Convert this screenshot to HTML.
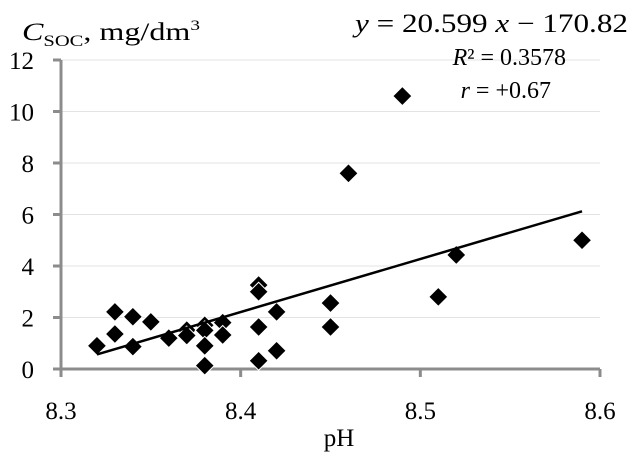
<!DOCTYPE html>
<html><head><meta charset="utf-8"><style>
body{margin:0;background:#fff}
svg text{font-family:"Liberation Serif","DejaVu Serif",serif;fill:#000}
</style></head><body>
<svg width="631" height="458" viewBox="0 0 631 458">
<g id="grid"></g>
<g id="axes"></g>
<g id="pts"></g>
<g id="trend"></g>
<text x="22" y="40" font-size="25" textLength="178" lengthAdjust="spacingAndGlyphs"><tspan font-style="italic">C</tspan><tspan font-size="16" dy="6">SOC</tspan><tspan dy="-6">, mg/dm</tspan><tspan font-size="15" dy="-10">3</tspan></text>
<text x="355" y="32" font-size="26" textLength="273" lengthAdjust="spacingAndGlyphs"><tspan font-style="italic">y</tspan> = 20.599 <tspan font-style="italic">x</tspan> − 170.82</text>
<text x="566" y="65" font-size="24" text-anchor="end"><tspan font-style="italic">R</tspan>² = 0.3578</text>
<text x="551" y="98" font-size="24" text-anchor="end"><tspan font-style="italic">r</tspan> = +0.67</text>
<text x="339" y="446" font-size="25" text-anchor="middle">pH</text>
</svg>
<script>
const xVals=[8.32,8.33,8.33,8.34,8.34,8.35,8.36,8.37,8.37,8.38,8.38,8.38,8.38,8.39,8.39,8.41,8.41,8.41,8.41,8.42,8.42,8.45,8.45,8.46,8.49,8.51,8.52,8.59];
const yVals=[0.9,2.22,1.36,2.03,0.87,1.83,1.2,1.51,1.3,1.7,1.5,0.9,0.13,1.8,1.32,3.26,3.0,1.63,0.32,2.22,0.71,2.56,1.63,7.6,10.6,2.8,4.43,5.0];
const yTicks=[0,2,4,6,8,10,12];
const xTicks=[8.3,8.4,8.5,8.6];
const slope=20.599, intercept=-170.82, trendRange=[8.32,8.59];
const X0=61,X1=600,Y0=369,Y1=60;
const sx=v=>X0+(v-8.3)/(0.3)*(X1-X0);
const sy=v=>Y0-(v/12)*(Y0-Y1);
const NS='http://www.w3.org/2000/svg';
function mk(t,a,p){const e=document.createElementNS(NS,t);for(const k in a)e.setAttribute(k,a[k]);p.appendChild(e);return e;}
const grid=document.getElementById('grid'),axes=document.getElementById('axes'),pts=document.getElementById('pts'),trend=document.getElementById('trend');
yTicks.forEach(v=>{
 if(v>0){const g=mk('line',{x1:X0,x2:X1,y1:sy(v),y2:sy(v),stroke:'#e3e3e3','stroke-width':1},grid);
 
 }
 const tk=mk('line',{x1:X0-8,x2:X0,y1:sy(v),y2:sy(v),stroke:'#8c8c8c','stroke-width':3},axes);
 
 
 const t=mk('text',{x:34,y:sy(v)+9,'font-size':25,'text-anchor':'end'},axes);t.textContent=v;
 
 
});
xTicks.forEach(v=>{
 const tk=mk('line',{x1:sx(v),x2:sx(v),y1:Y0,y2:Y0+8,stroke:'#8c8c8c','stroke-width':3},axes);
 
 
 const t=mk('text',{x:sx(v),y:Y0+50,'font-size':25,'text-anchor':'middle'},axes);t.textContent=v.toFixed(1);
 
 
});
const ya=mk('line',{x1:X0,x2:X0,y1:Y1,y2:Y0,stroke:'#8c8c8c','stroke-width':3},axes);


const xa=mk('line',{x1:X0,x2:X1,y1:Y0,y2:Y0,stroke:'#8c8c8c','stroke-width':3},axes);


xVals.forEach((x,i)=>{
 const cx=sx(x),cy=sy(yVals[i]),r=9.5;
 const d=mk('polygon',{points:`${cx},${cy-r} ${cx+r},${cy} ${cx},${cy+r} ${cx-r},${cy}`,fill:'#000',stroke:'#fff','stroke-width':1},pts);
 
 
});
const tl=mk('line',{x1:sx(trendRange[0]),y1:sy(slope*trendRange[0]+intercept),x2:sx(trendRange[1]),y2:sy(slope*trendRange[1]+intercept),stroke:'#000','stroke-width':2.5},trend);


</script>
</body></html>
